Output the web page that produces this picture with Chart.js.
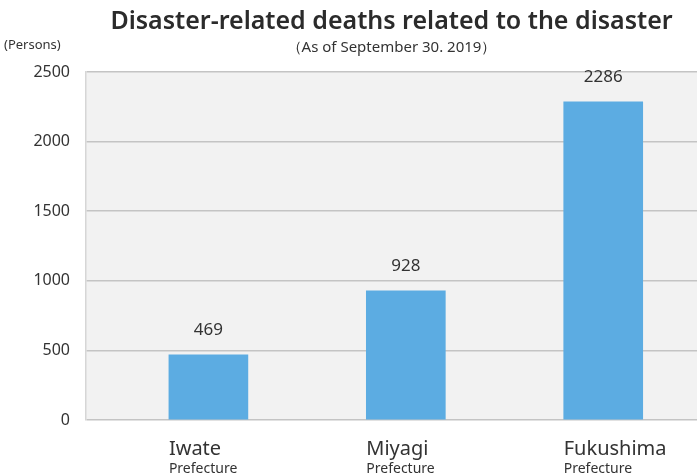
<!DOCTYPE html>
<html>
<head>
<meta charset="utf-8">
<script src="https://cdn.jsdelivr.net/npm/chart.js@4"></script>
<style>
  html, body { margin: 0; padding: 0; background: #ffffff; }
  #wrap { width: 697px; height: 473px; }
</style>
</head>
<body>
<div id="wrap"><canvas id="deathChart" width="697" height="473"></canvas></div>
<script>
// Data
const prefectures = ["Iwate", "Miyagi", "Fukushima"];
const subLabel = "Prefecture";
const deaths = [469, 928, 2286];
const yTicks = [0, 500, 1000, 1500, 2000, 2500];

const barColor = "rgb(92, 172, 226)";
const textColor = "#333333";
const fontFamily = "'Noto Sans', 'DejaVu Sans', sans-serif";

// gray plot background
const plotBackground = {
  id: "plotBackground",
  beforeDraw(chart) {
    const { ctx, chartArea } = chart;
    ctx.save();
    ctx.fillStyle = "#ffffff";
    ctx.fillRect(0, 0, chart.width, chart.height);
    ctx.fillStyle = "#f2f2f2";
    ctx.fillRect(chartArea.left, chartArea.top, chartArea.right - chartArea.left, chartArea.bottom - chartArea.top);
    ctx.restore();
  },
};

// value labels, category labels and unit
const extraText = {
  id: "extraText",
  afterDatasetsDraw(chart) {
    const { ctx, chartArea } = chart;
    const meta = chart.getDatasetMeta(0);
    ctx.save();
    ctx.fillStyle = textColor;
    meta.data.forEach((bar, i) => {
      ctx.font = "17px " + fontFamily;
      ctx.textAlign = "center";
      ctx.textBaseline = "middle";
      ctx.fillText(String(deaths[i]), bar.x, bar.y - 25);

      const left = bar.x - bar.width / 2;
      ctx.textAlign = "left";
      ctx.textBaseline = "alphabetic";
      ctx.font = "20px " + fontFamily;
      ctx.fillText(prefectures[i], left, chartArea.bottom + 35);
      ctx.font = "14px " + fontFamily;
      ctx.fillText(subLabel, left, chartArea.bottom + 53);
    });
    ctx.font = "13px " + fontFamily;
    ctx.textAlign = "left";
    ctx.textBaseline = "middle";
    ctx.fillText("(Persons)", 4, 45);
    ctx.restore();
  },
};

new Chart(document.getElementById("deathChart"), {
  type: "bar",
  data: {
    datasets: [
      {
        data: deaths.map((v, i) => ({ x: i, y: v })),
        backgroundColor: barColor,
        borderWidth: 0,
        barThickness: 79,
      },
    ],
  },
  options: {
    responsive: false,
    animation: false,
    layout: { padding: { top: 0, bottom: 53, left: 0, right: 0 } },
    scales: {
      x: {
        type: "linear",
        min: -0.62,
        max: 2.475,
        offset: false,
        display: false,
      },
      y: {
        min: 0,
        max: 2500,
        afterBuildTicks: (scale) => {
          scale.ticks = yTicks.map((v) => ({ value: v }));
        },
        afterFit: (scale) => {
          scale.width = 86;
        },
        ticks: {
          color: textColor,
          padding: 16,
          font: { family: fontFamily, size: 16 },
          callback: (v) => String(v),
        },
        grid: {
          color: "#c4c4c4",
          lineWidth: 1.5,
          drawTicks: false,
        },
        border: { color: "#d6d6d6", width: 1.5 },
      },
    },
    plugins: {
      legend: { display: false },
      tooltip: { enabled: false },
      title: {
        display: true,
        fullSize: false,
        text: "Disaster-related deaths related to the disaster",
        color: "#2b2b2b",
        font: { family: fontFamily, size: 25, weight: "600" },
        padding: { top: 7, bottom: 2 },
      },
      subtitle: {
        display: true,
        fullSize: false,
        text: "（As of September 30. 2019）",
        color: textColor,
        font: { family: fontFamily, size: 15 },
        padding: { top: 0, bottom: 15 },
      },
    },
  },
  plugins: [plotBackground, extraText],
});
</script>
</body>
</html>
